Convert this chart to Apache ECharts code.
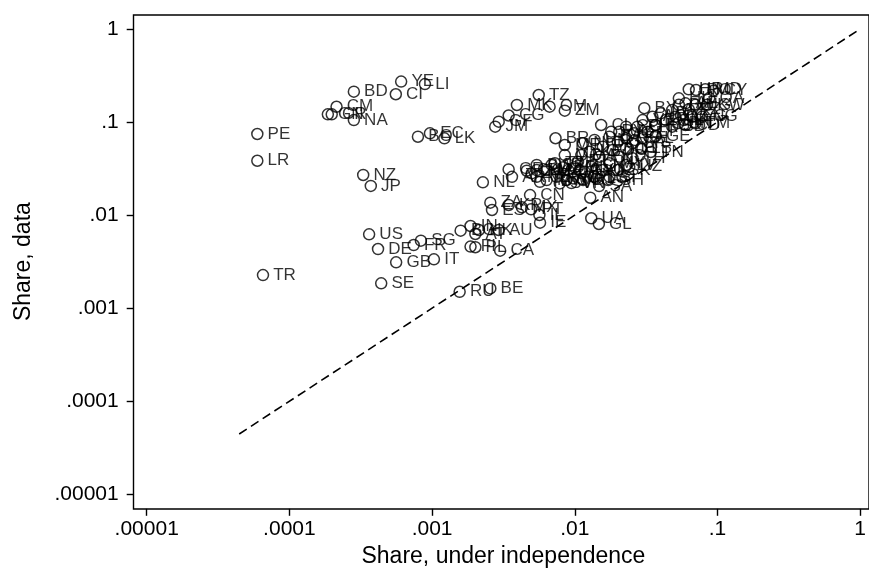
<!DOCTYPE html>
<html>
<head>
<meta charset="utf-8">
<script src="https://cdn.jsdelivr.net/npm/echarts@6/dist/echarts.min.js"></script>
<style>
html,body{margin:0;padding:0;background:#fff;}
#chart{width:869px;height:575px;}
</style>
</head>
<body>
<div id="chart"></div>
<script>
// Country codes (point labels)
const codes = ['HR','RO','MD','CY','HU','QA','KW','UG','AE','BH',
  'BY','AZ','KZ','IR','DZ','EG','NG','AO','VE','MN',
  'BN','LY','TM','KG','CL','CO','PH','SD','CD','PY',
  'UY','EE','LT','GE','BA','RS','AL','HN','GT','SR',
  'NI','PA','DO','JO','LB','TN','KE','MA','PK','ID',
  'TH','ET','MY','LV','SN','CZ','SK','GY','UZ','SI',
  'TG','BJ','GH','SA','AN','BR','ME','MG','TT','BW',
  'CU','MZ','BF','ML','GR','AR','ZW','NE','MW','RW',
  'SY','TD','SV','VN','KH','LA','MU','NP','LS','SZ',
  'CN','TZ','MK','OM','ZM','CG','GF','JM','NL','ZA',
  'ES','KR','MX','PT','IL','IE','UA','GL','IN','BG',
  'HK','AT','AU','FI','PL','CA','IT','US','DE','GB',
  'SE','FR','SG','RU','BE','NZ','JP','PE','LR','TR',
  'BD','CM','GN','CR','NA','YE','LI','CI','BO','EC','LK'];
// Share under independence (x)
const shareIndep = [0.0629,0.0708,0.0822,0.0938,0.0536,0.0876,0.0845,0.0700,0.0597,0.0536,
  0.0307,0.0482,0.0629,0.0400,0.0508,0.0664,0.0779,0.0350,0.0299,0.0434,
  0.0533,0.0581,0.0700,0.0369,0.0153,0.0229,0.0275,0.0482,0.0597,0.0180,
  0.0205,0.0261,0.0324,0.0369,0.0175,0.0229,0.0299,0.01375,0.0200,0.0254,
  0.01143,0.01573,0.01845,0.0229,0.0291,0.0341,0.0127,0.01111,0.0149,0.0205,
  0.0254,0.01054,0.0175,0.0229,0.01305,0.01573,0.0200,0.01081,0.0241,0.0175,
  0.01375,0.01143,0.01714,0.01482,0.01284,0.00733,0.00851,0.00851,0.00725,0.00541,
  0.00461,0.00635,0.0083,0.00998,0.00344,0.00363,0.00499,0.00541,0.00635,0.00745,
  0.00875,0.0057,0.00785,0.00948,0.00541,0.00899,0.01173,0.00973,0.01413,0.00688,
  0.00486,0.00559,0.00393,0.00666,0.00851,0.00344,0.00293,0.00277,0.00227,0.00256,
  0.00263,0.00344,0.00426,0.00494,0.00565,0.00571,0.01305,0.01475,0.00186,0.001585,
  0.00213,0.00201,0.00293,0.00186,0.00201,0.00300,0.00103,0.000362,0.000418,0.00056,
  0.00044,0.000743,0.000835,0.00156,0.00256,0.000329,0.000372,0.0000596,0.0000596,0.0000653,
  0.000283,0.000214,0.000186,0.000198,0.000283,0.000607,0.000891,0.000557,0.000796,0.000966,0.00122];
// Share in data (y)
const shareData = [0.225,0.221,0.225,0.217,0.180,0.181,0.153,0.153,0.159,0.153,
  0.141,0.135,0.137,0.124,0.114,0.114,0.114,0.114,0.105,0.105,
  0.0977,0.105,0.097,0.093,0.093,0.0892,0.0892,0.0892,0.093,0.0788,
  0.0788,0.0758,0.0788,0.0709,0.0697,0.0670,0.0670,0.0642,0.0616,0.0592,
  0.0592,0.0544,0.0501,0.0523,0.0523,0.0477,0.0480,0.0442,0.0424,0.0424,
  0.0408,0.0375,0.0360,0.0346,0.0331,0.0305,0.0305,0.0305,0.0331,0.0258,
  0.0258,0.0238,0.0238,0.0205,0.01538,0.0670,0.0567,0.0442,0.0360,0.0346,
  0.0300,0.0305,0.0326,0.0326,0.0310,0.0258,0.0281,0.0258,0.0238,0.0258,
  0.0238,0.0228,0.0219,0.0221,0.0305,0.0305,0.0292,0.0248,0.0248,0.0346,
  0.01643,0.1954,0.1526,0.1464,0.1326,0.1176,0.1009,0.0892,0.0225,0.0136,
  0.01135,0.01285,0.01213,0.01155,0.01003,0.00829,0.00925,0.00803,0.00764,0.00681,
  0.00692,0.00627,0.00692,0.00459,0.00452,0.00415,0.00335,0.00622,0.00432,0.00311,
  0.00185,0.00477,0.00531,0.00150,0.00163,0.0270,0.0206,0.0744,0.0384,0.00227,
  0.212,0.146,0.121,0.121,0.105,0.272,0.256,0.199,0.0696,0.0757,0.0669];
// 45-degree reference line endpoints
const diagonal = [0.0000445, 1];
// Axis tick labels, one per decade from 1e-5 to 1
const tickLabels = ['.00001','.0001','.001','.01','.1','1'];

const FONT = '"Liberation Sans", Arial, sans-serif';
const fmt = v => { const e = Math.round(Math.log10(v)) + 5; return tickLabels[e] !== undefined ? tickLabels[e] : ''; };

const points = codes.map((c, i) => ({ value: [shareIndep[i], shareData[i]], name: c }));

const chart = echarts.init(document.getElementById('chart'), null, { renderer: 'canvas' });
chart.setOption({
  animation: false,
  backgroundColor: '#fff',
  grid: [
    { left: 133.5, top: 15, right: -5, bottom: 66, show: true, borderColor: '#000', borderWidth: 1.4, backgroundColor: 'transparent' },
    { left: 146.7, top: 29, right: 2.7, bottom: 80.7 }
  ],
  xAxis: [
    { gridIndex: 0, type: 'value', show: false },
    { gridIndex: 1, type: 'log', logBase: 10, min: 0.00001, max: 1, position: 'bottom', offset: 14.5,
      axisLine: { show: false },
      axisTick: { show: true, length: 7, lineStyle: { color: '#000', width: 1.4 } },
      splitLine: { show: false },
      axisLabel: { formatter: fmt, fontSize: 21, color: '#000', fontFamily: FONT, margin: 10 },
      name: 'Share, under independence', nameLocation: 'middle', nameGap: 31,
      nameTextStyle: { fontSize: 23, color: '#000', fontFamily: FONT } }
  ],
  yAxis: [
    { gridIndex: 0, type: 'value', show: false },
    { gridIndex: 1, type: 'log', logBase: 10, min: 0.00001, max: 1, position: 'left', offset: 13,
      axisLine: { show: false },
      axisTick: { show: true, length: 7, lineStyle: { color: '#000', width: 1.4 } },
      splitLine: { show: false },
      axisLabel: { formatter: fmt, fontSize: 21, color: '#000', fontFamily: FONT, margin: 15 },
      name: 'Share, data', nameLocation: 'middle', nameGap: 99,
      nameTextStyle: { fontSize: 23, color: '#000', fontFamily: FONT } }
  ],
  series: [
    { type: 'line', xAxisIndex: 1, yAxisIndex: 1, data: diagonal.map(v => [v, v]),
      symbol: 'none', lineStyle: { color: '#000', width: 1.6, type: [9, 5] }, z: 1 },
    { type: 'scatter', xAxisIndex: 1, yAxisIndex: 1, data: points,
      symbol: 'circle', symbolSize: 11,
      itemStyle: { color: 'rgba(0,0,0,0)', borderColor: '#000', borderWidth: 1.5 },
      label: { show: true, position: 'right', distance: 4, formatter: p => p.name,
        fontSize: 17, color: '#000', fontFamily: FONT },
      z: 2 }
  ]
});
</script>
</body>
</html>
